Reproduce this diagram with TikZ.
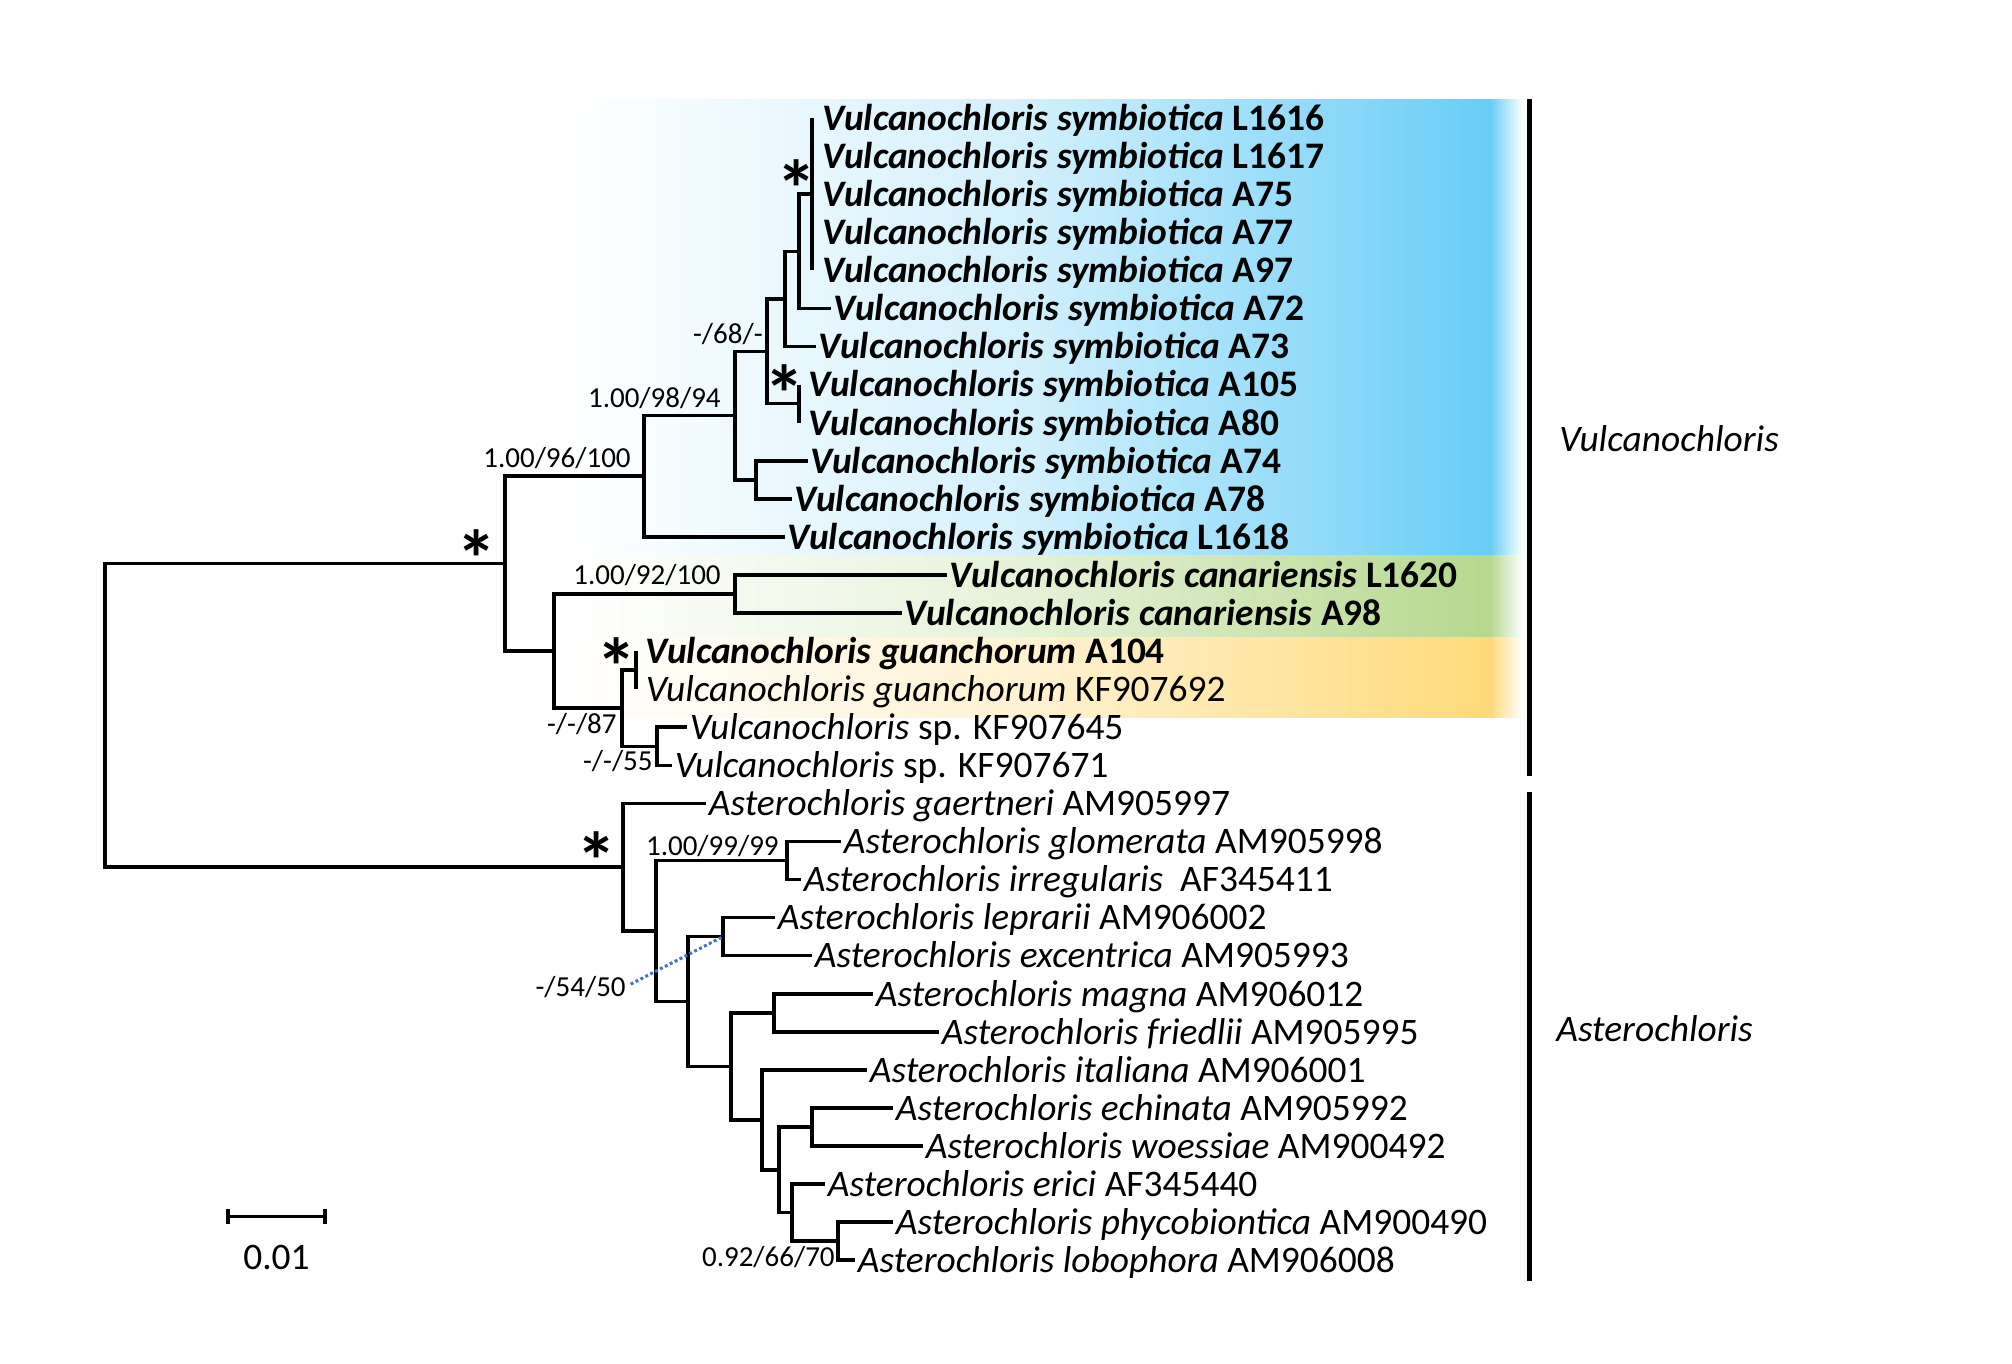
\documentclass[tikz,border=0pt]{standalone}
\usepackage{fontspec}
\setmainfont{Carlito}
\usetikzlibrary{positioning}
\definecolor{skyblue}{RGB}{104,205,246}
\definecolor{leafgreen}{RGB}{181,216,141}
\definecolor{sandgold}{RGB}{255,218,122}
\definecolor{dotblue}{RGB}{68,114,196}

\begin{document}
\begin{tikzpicture}[x=0.02cm, y=-0.02cm,
  branch/.style={line width=0.072cm, line join=miter},
  taxon/.style={anchor=west, inner xsep=1.5pt, inner ysep=0pt,
                text height=14pt, text depth=0pt,
                font=\fontsize{21.3}{24}\selectfont},
  supp/.style={anchor=base east, inner sep=0pt, font=\fontsize{16.5}{18}\selectfont},
  star/.style={anchor=base, inner sep=0pt, font=\fontsize{46}{46}\selectfont\bfseries},
  genus/.style={anchor=west, inner sep=0pt, text height=14pt, text depth=0pt,
                font=\fontsize{21.3}{24}\selectfont\itshape},
  clade/.style={line width=0.1cm},
  dotline/.style={draw=dotblue, line width=0.06cm, dash pattern=on 0.06cm off 0.05cm}
]
\useasboundingbox (0,0) rectangle (2012,1363);

% shaded clades
\shade[left color=white, right color=skyblue, middle color=skyblue!30] (568,99) rectangle (1490,555.6);
\shade[left color=skyblue, right color=white] (1490,99) rectangle (1523,555.6);
\shade[left color=white, right color=leafgreen, middle color=leafgreen!35] (568,555.6) rectangle (1490,637.7);
\shade[left color=leafgreen, right color=white] (1490,555.6) rectangle (1523,637.7);
\shade[left color=white, right color=sandgold, middle color=sandgold!35] (568,637.7) rectangle (1490,717.3);
\shade[left color=sandgold, right color=white] (1490,637.7) rectangle (1523,717.3);

% internal nodes
\coordinate (root) at (105,715.4);
\coordinate (nV) at (505,563.6);
\coordinate (n96) at (644,476.2);
\coordinate (n98) at (735,415.5);
\coordinate (n68) at (767,351.3);
\coordinate (na) at (785,298.9);
\coordinate (nb) at (799,251.3);
\coordinate (nstar) at (812,194.2);
\coordinate (nc) at (799,403.6);
\coordinate (n7478) at (756,479.8);
\coordinate (nlow) at (554,651.1);
\coordinate (ncan) at (735,594.0);
\coordinate (n87) at (622,708.2);
\coordinate (nguan) at (636,670.1);
\coordinate (n55) at (657,746.3);
\coordinate (nA) at (623,867.2);
\coordinate (nA2) at (656,931.0);
\coordinate (n99) at (787,860.5);
\coordinate (nA3) at (688,1001.4);
\coordinate (n54) at (723,936.6);
\coordinate (nA4) at (731,1066.3);
\coordinate (nmf) at (774,1012.7);
\coordinate (nA5) at (762,1119.8);
\coordinate (nA6) at (779,1169.8);
\coordinate (new) at (812,1127.0);
\coordinate (nA7) at (792,1212.6);
\coordinate (n66) at (838,1241.2);

% taxa
\node[taxon] (l1616) at (820,118.1) {\textbf{\textit{Vulcanochloris symbiotica} L1616}};
\node[taxon] (l1617) at (820,156.2) {\textbf{\textit{Vulcanochloris symbiotica} L1617}};
\node[taxon] (a75) at (820,194.2) {\textbf{\textit{Vulcanochloris symbiotica} A75}};
\node[taxon] (a77) at (820,232.3) {\textbf{\textit{Vulcanochloris symbiotica} A77}};
\node[taxon] (a97) at (820,270.4) {\textbf{\textit{Vulcanochloris symbiotica} A97}};
\node[taxon] (a72) at (831,308.5) {\textbf{\textit{Vulcanochloris symbiotica} A72}};
\node[taxon] (a73) at (816,346.5) {\textbf{\textit{Vulcanochloris symbiotica} A73}};
\node[taxon] (a105) at (806,384.6) {\textbf{\textit{Vulcanochloris symbiotica} A105}};
\node[taxon] (a80) at (806,422.7) {\textbf{\textit{Vulcanochloris symbiotica} A80}};
\node[taxon] (a74) at (808,460.7) {\textbf{\textit{Vulcanochloris symbiotica} A74}};
\node[taxon] (a78) at (792,498.8) {\textbf{\textit{Vulcanochloris symbiotica} A78}};
\node[taxon] (l1618) at (785,536.9) {\textbf{\textit{Vulcanochloris symbiotica} L1618}};
\node[taxon] (l1620) at (947,574.9) {\textbf{\textit{Vulcanochloris canariensis} L1620}};
\node[taxon] (a98) at (902,613.0) {\textbf{\textit{Vulcanochloris canariensis} A98}};
\node[taxon] (a104) at (643,651.1) {\textbf{\textit{Vulcanochloris guanchorum} A104}};
\node[taxon] (kf692) at (643,689.2) {\textit{Vulcanochloris guanchorum} KF907692};
\node[taxon] (kf645) at (687,727.2) {\textit{Vulcanochloris} sp. KF907645};
\node[taxon] (kf671) at (672,765.3) {\textit{Vulcanochloris} sp. KF907671};
\node[taxon] (gaert) at (706,803.4) {\textit{Asterochloris gaertneri} AM905997};
\node[taxon] (glom) at (841,841.4) {\textit{Asterochloris glomerata} AM905998};
\node[taxon] (irreg) at (801,879.5) {\textit{Asterochloris irregularis}~ AF345411};
\node[taxon] (lepr) at (775,917.6) {\textit{Asterochloris leprarii} AM906002};
\node[taxon] (excen) at (812,955.6) {\textit{Asterochloris excentrica} AM905993};
\node[taxon] (magna) at (873,993.7) {\textit{Asterochloris magna} AM906012};
\node[taxon] (fried) at (939,1031.8) {\textit{Asterochloris friedlii} AM905995};
\node[taxon] (ital) at (867,1069.9) {\textit{Asterochloris italiana} AM906001};
\node[taxon] (echin) at (893,1107.9) {\textit{Asterochloris echinata} AM905992};
\node[taxon] (woess) at (923,1146.0) {\textit{Asterochloris woessiae} AM900492};
\node[taxon] (erici) at (825,1184.1) {\textit{Asterochloris erici} AF345440};
\node[taxon] (phyco) at (893,1222.1) {\textit{Asterochloris phycobiontica} AM900490};
\node[taxon] (lobo) at (855,1260.2) {\textit{Asterochloris lobophora} AM906008};

% branches
\draw[branch] (root) |- (nV) (root) |- (nA);
\draw[branch] (nV) |- (n96) (nV) |- (nlow);
\draw[branch] (n96) |- (n98) (n96) |- (l1618.west);
\draw[branch] (n98) |- (n68) (n98) |- (n7478);
\draw[branch] (n68) |- (na) (n68) |- (nc);
\draw[branch] (na) |- (nb) (na) |- (a73.west);
\draw[branch] (nb) |- (nstar) (nb) |- (a72.west);
\draw[branch] (nstar |- l1616.west) -- (nstar |- a97.west);
\draw[branch] (nc |- a105.west) -- (nc |- a80.west);
\draw[branch] (n7478) |- (a74.west) (n7478) |- (a78.west);
\draw[branch] (nlow) |- (ncan) (nlow) |- (n87);
\draw[branch] (ncan) |- (l1620.west) (ncan) |- (a98.west);
\draw[branch] (n87) |- (nguan) (n87) |- (n55);
\draw[branch] (nguan |- a104.west) -- (nguan |- kf692.west);
\draw[branch] (n55) |- (kf645.west) (n55) |- (kf671.west);
\draw[branch] (nA) |- (gaert.west) (nA) |- (nA2);
\draw[branch] (nA2) |- (n99) (nA2) |- (nA3);
\draw[branch] (n99) |- (glom.west) (n99) |- (irreg.west);
\draw[branch] (nA3) |- (n54) (nA3) |- (nA4);
\draw[branch] (n54) |- (lepr.west) (n54) |- (excen.west);
\draw[branch] (nA4) |- (nmf) (nA4) |- (nA5);
\draw[branch] (nmf) |- (magna.west) (nmf) |- (fried.west);
\draw[branch] (nA5) |- (ital.west) (nA5) |- (nA6);
\draw[branch] (nA6) |- (new) (nA6) |- (nA7);
\draw[branch] (new) |- (echin.west) (new) |- (woess.west);
\draw[branch] (nA7) |- (erici.west) (nA7) |- (n66);
\draw[branch] (n66) |- (phyco.west) (n66) |- (lobo.west);

% support values
\node[supp] (s96) at (631,467) {1.00/96/100};
\node[supp] (s98) at (721,407) {1.00/98/94};
\node[supp] (s68) at (763,343) {-/68/-};
\node[supp] (s92) at (721,584) {1.00/92/100};
\node[supp] (s87) at (617,733) {-/-/87};
\node[supp] (s55) at (653,770) {-/-/55};
\node[supp] (s99) at (779,855) {1.00/99/99};
\node[supp] (s54) at (626,996) {-/54/50};
\node[supp] (s66) at (835,1266) {0.92/66/70};
\draw[dotline, shorten <=3pt] (s54.east) -- (n54);

\node[star] (stV) at (477,587) {*};
\node[star] (stS) at (797,217) {*};
\node[star] (stC) at (785,422) {*};
\node[star] (stG) at (617,695) {*};
\node[star] (stA) at (597,889) {*};

% scale bar
\coordinate (sbl) at (228,1216.5);
\coordinate (sbr) at (325,1216.5);
\draw[branch] (sbl) -- (sbr);
\draw[branch] ([yshift=0.15cm]sbl) -- ([yshift=-0.15cm]sbl);
\draw[branch] ([yshift=0.15cm]sbr) -- ([yshift=-0.15cm]sbr);
\node[taxon, anchor=center] (sblab) at (276.5,1257.6) {0.01};

% genus bars
\coordinate (vtop) at (1529.5,99);
\coordinate (vbot) at (1529.5,776);
\coordinate (atop) at (1529.5,792);
\coordinate (abot) at (1529.5,1281);
\draw[clade] (vtop) -- (vbot);
\draw[clade] (atop) -- (abot);
\node[genus] (gv) at (1559,439) {Vulcanochloris};
\node[genus] (ga) at (1556,1029) {Asterochloris};
\end{tikzpicture}
\end{document}
